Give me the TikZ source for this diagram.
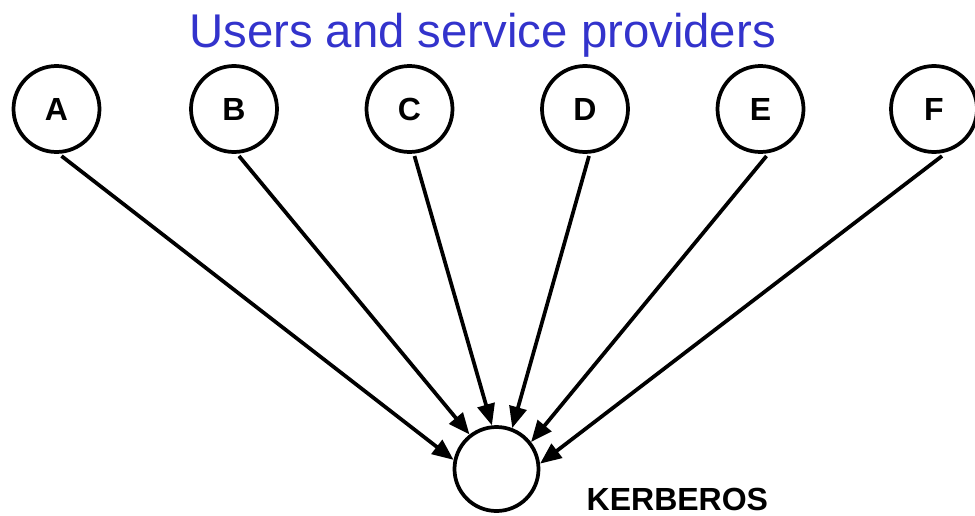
\documentclass[tikz,border=0pt]{standalone}
\usepackage{fontspec}
\setmainfont{Liberation Sans}
\usetikzlibrary{arrows.meta,calc}
\definecolor{titleblue}{RGB}{51,51,204}
\tikzset{
  party/.style={circle,draw,line width=2.8pt,minimum size=64.5pt,inner sep=0pt,outer sep=0pt,font=\fontsize{24}{24}\selectfont\bfseries},
  kdc/.style={circle,draw,line width=2.8pt,minimum size=63pt,inner sep=0pt},
  link/.style={line width=2.8pt,-{Triangle[length=16pt,width=13pt]}},
}
\begin{document}
\begin{tikzpicture}[x=0.75pt,y=-0.75pt]
\useasboundingbox (0,0) rectangle (975,515);
\node[anchor=base,text=titleblue,font=\fontsize{35.5}{40}\selectfont] (title) at (482.5,47) {Users and service providers};
\node[party] (A) at (56.5,109) {A};
\node[party] (B) at (234,109) {B};
\node[party] (C) at (409.5,109) {C};
\node[party] (D) at (585,109) {D};
\node[party] (E) at (760.5,109) {E};
\node[party] (F) at (934,109) {F};
\node[kdc] (K) at (496.5,469) {};
\node[anchor=base west,font=\fontsize{24}{24}\selectfont\bfseries] (klabel) at (582,510) {KERBEROS};
\coordinate (a0) at ($(A.south)+(5,4)$);
\coordinate (b0) at ($(B.south)+(5,4)$);
\coordinate (c0) at ($(C.south)+(5,4)$);
\coordinate (d0) at ($(D.south)+(4,4)$);
\coordinate (e0) at ($(E.south)+(6,4)$);
\coordinate (f0) at ($(F.south)+(8,4)$);
\draw[link] (a0) -- (K.168);
\draw[link] (b0) -- (K.128);
\draw[link] (c0) -- (K.96);
\draw[link] (d0) -- (K.69);
\draw[link] (e0) -- (K.38);
\draw[link] (f0) -- (K.7);
\end{tikzpicture}
\end{document}
